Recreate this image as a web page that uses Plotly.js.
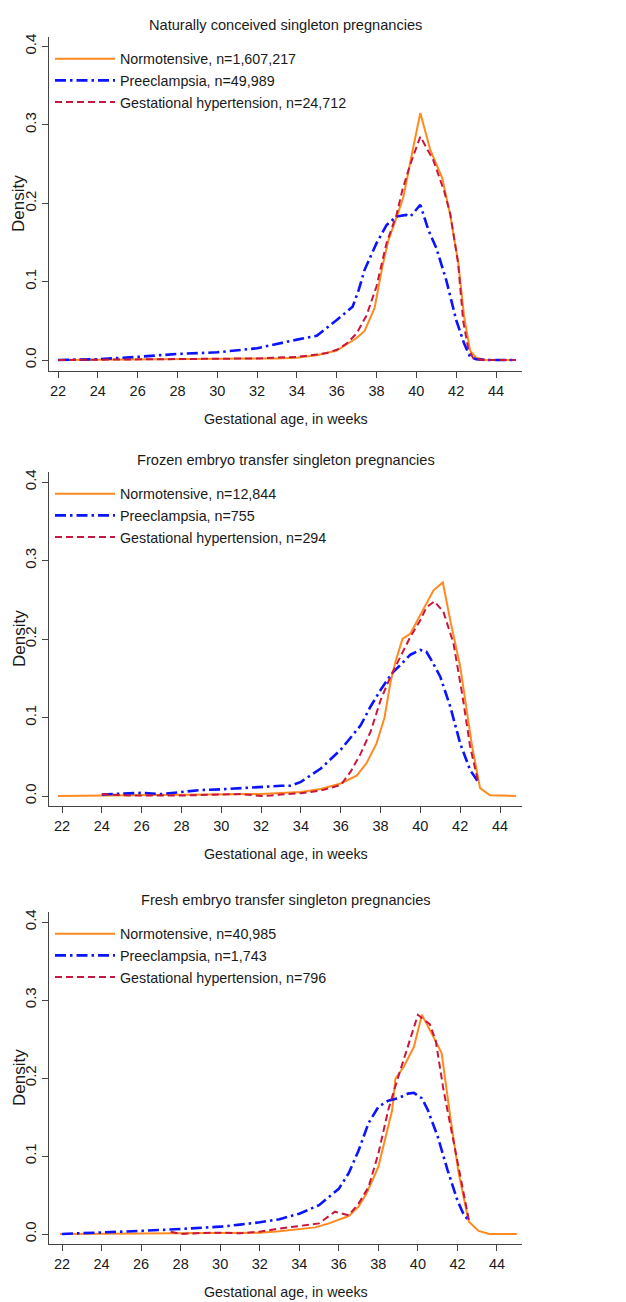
<!DOCTYPE html>
<html>
<head>
<meta charset="utf-8">
<script src="https://cdn.plot.ly/plotly-3.0.1.min.js"></script>
<style>
  html, body { margin: 0; padding: 0; background: #ffffff; }
  #chart { width: 626px; height: 1302px; }
</style>
</head>
<body>
<div id="chart"></div>
<script>
// ---------- Data ----------
const panelTitles = [
  "Naturally conceived singleton pregnancies",
  "Frozen embryo transfer singleton pregnancies",
  "Fresh embryo transfer singleton pregnancies"
];
const seriesNames1 = ["Normotensive, n=1,607,217", "Preeclampsia, n=49,989", "Gestational hypertension, n=24,712"];
const seriesNames2 = ["Normotensive, n=12,844", "Preeclampsia, n=755", "Gestational hypertension, n=294"];
const seriesNames3 = ["Normotensive, n=40,985", "Preeclampsia, n=1,743", "Gestational hypertension, n=796"];

const xTickVals = [22, 24, 26, 28, 30, 32, 34, 36, 38, 40, 42, 44];
const yTickVals = [0, 0.1, 0.2, 0.3, 0.4];
const xAxisTitle = "Gestational age, in weeks";
const yAxisTitle = "Density";

// Panel 1: naturally conceived
const p1NormX = [22, 24, 26, 28, 30, 32, 33, 34, 35, 36, 36.5, 37, 37.4, 37.9, 38.3, 38.6, 39.1, 39.35, 39.85, 40.2, 40.7, 41.3, 41.7, 42.1, 42.4, 42.7, 43.0, 43.5, 45];
const p1NormY = [0, 0.0003, 0.0005, 0.0007, 0.001, 0.0015, 0.002, 0.003, 0.006, 0.012, 0.02, 0.028, 0.037, 0.066, 0.12, 0.153, 0.189, 0.208, 0.272, 0.315, 0.268, 0.232, 0.185, 0.125, 0.055, 0.012, 0.003, 0, 0];
const p1PreX = [22, 24, 26, 28, 30, 32, 34, 35, 36, 36.8, 37.1, 37.4, 38, 38.5, 39, 39.5, 39.7, 40.2, 40.6, 41, 41.5, 42, 42.4, 42.7, 43, 43.5, 45];
const p1PreY = [0, 0.001, 0.004, 0.0077, 0.0098, 0.015, 0.026, 0.031, 0.051, 0.068, 0.089, 0.115, 0.149, 0.172, 0.183, 0.185, 0.183, 0.198, 0.166, 0.143, 0.102, 0.051, 0.021, 0.004, 0.001, 0, 0];
const p1GhX = [22, 24, 26, 28, 30, 32, 33, 34, 35, 35.5, 36, 36.5, 37, 37.5, 38, 38.5, 39, 39.3, 39.7, 40.2, 40.85, 41.4, 41.7, 42.1, 42.35, 42.6, 42.86, 43.3, 45];
const p1GhY = [0, 0.0005, 0.0008, 0.001, 0.0012, 0.002, 0.003, 0.004, 0.007, 0.009, 0.013, 0.021, 0.034, 0.057, 0.094, 0.149, 0.185, 0.217, 0.25, 0.285, 0.255, 0.215, 0.187, 0.123, 0.05, 0.015, 0.002, 0, 0];

// Panel 2: frozen embryo transfer
const p2NormX = [21.8, 24, 26, 28, 30, 32, 34, 35, 36, 36.8, 37.3, 37.8, 38.2, 38.5, 38.75, 39.1, 39.5, 40.0, 40.3, 40.66, 41.13, 41.5, 42.0, 42.6, 43.0, 43.5, 44.8];
const p2NormY = [0, 0.0005, 0.001, 0.001, 0.002, 0.0025, 0.005, 0.009, 0.016, 0.026, 0.042, 0.067, 0.10, 0.145, 0.171, 0.20, 0.207, 0.231, 0.245, 0.262, 0.272, 0.224, 0.165, 0.063, 0.01, 0.001, 0];
const p2PreX = [24, 25.4, 26, 27, 28, 29, 30, 31, 32, 33, 33.5, 34, 35, 36, 37, 37.5, 38, 38.56, 39, 39.5, 40, 40.3, 40.6, 41, 41.5, 42, 42.5, 42.9];
const p2PreY = [0.002, 0.004, 0.004, 0.0025, 0.005, 0.0076, 0.0085, 0.01, 0.012, 0.013, 0.013, 0.018, 0.035, 0.059, 0.09, 0.114, 0.135, 0.156, 0.167, 0.18, 0.186, 0.184, 0.171, 0.152, 0.114, 0.067, 0.033, 0.018];
const p2GhX = [24, 25, 26, 28, 30, 31, 32, 32.5, 33, 34, 35, 36, 36.5, 37, 37.5, 38, 38.5, 39, 39.5, 40, 40.3, 40.7, 41.15, 41.66, 42.1, 42.5, 42.9];
const p2GhY = [0.0025, 0.001, 0.0005, 0.0005, 0.002, 0.0025, 0.0, 0.0005, 0.002, 0.0035, 0.007, 0.014, 0.031, 0.054, 0.082, 0.122, 0.152, 0.177, 0.203, 0.224, 0.24, 0.248, 0.235, 0.195, 0.13, 0.063, 0.018];

// Panel 3: fresh embryo transfer
const p3NormX = [21.9, 24, 26, 28, 30, 32, 33, 34, 34.8, 35.5, 36, 36.5, 37, 37.4, 38, 38.4, 38.7, 38.86, 39.3, 39.8, 40.2, 40.78, 41.2, 41.64, 42.06, 42.57, 43.07, 43.6, 45];
const p3NormY = [0, 0.0002, 0.0003, 0.0005, 0.001, 0.0017, 0.0034, 0.006, 0.0085, 0.0136, 0.018, 0.023, 0.035, 0.052, 0.086, 0.129, 0.159, 0.199, 0.215, 0.24, 0.281, 0.253, 0.232, 0.15, 0.078, 0.016, 0.004, 0, 0];
const p3PreX = [22, 24, 26, 28, 30, 31, 32, 33, 34, 35, 36, 36.5, 37, 37.5, 38, 38.5, 39, 39.5, 39.8, 40.2, 40.5, 41, 41.5, 42, 42.3, 42.6];
const p3PreY = [0, 0.0017, 0.004, 0.0064, 0.0094, 0.012, 0.015, 0.019, 0.026, 0.037, 0.058, 0.078, 0.107, 0.142, 0.163, 0.171, 0.174, 0.18, 0.181, 0.174, 0.159, 0.125, 0.082, 0.043, 0.026, 0.016];
const p3GhX = [27.5, 28, 29, 30, 31, 32, 33, 34, 34.5, 35, 35.8, 36.5, 37, 37.5, 38, 38.5, 39, 39.6, 40.0, 40.6, 40.9, 41.3, 41.8, 42.2, 42.6];
const p3GhY = [0.003, 0.0, 0.0013, 0.0017, 0.0009, 0.003, 0.007, 0.01, 0.0115, 0.0136, 0.0286, 0.024, 0.039, 0.06, 0.103, 0.159, 0.201, 0.25, 0.281, 0.269, 0.248, 0.184, 0.12, 0.065, 0.015];

// ---------- Styling ----------
const W = 626, H = 1302;
const SANS = "Liberation Sans, Arial, Helvetica, sans-serif";
const COL_NORM = "#ff8a1f";
const COL_PRE = "#0a14ff";
const COL_GH = "#c8173f";
const AXIS_COL = "#444444";
const TEXT_COL = "#1a1a1a";

// pixel geometry of the three panels (top of plot, bottom axis line, x range, y range)
const panels = [
  { top: 37,  bottom: 371,  xr: [21.548, 45.306], yr: [-0.01403, 0.41199], tick04: 47 },
  { top: 472, bottom: 806,  xr: [21.347, 45.105], yr: [-0.01274, 0.41274], tick04: 482 },
  { top: 912, bottom: 1244, xr: [21.342, 45.265], yr: [-0.01282, 0.41282], tick04: 922 }
];
const xDom = [49 / W, 522 / W];

const seriesData = [
  [[p1NormX, p1NormY], [p1PreX, p1PreY], [p1GhX, p1GhY]],
  [[p2NormX, p2NormY], [p2PreX, p2PreY], [p2GhX, p2GhY]],
  [[p3NormX, p3NormY], [p3PreX, p3PreY], [p3GhX, p3GhY]]
];
const names = [seriesNames1, seriesNames2, seriesNames3];
const lineStyles = [
  { color: COL_NORM, width: 2, dash: "solid" },
  { color: COL_PRE, width: 2.6, dash: "11px,4px,2.5px,4px" },
  { color: COL_GH, width: 2, dash: "7px,4px" }
];

const traces = [];
const layout = {
  width: W, height: H,
  margin: { l: 0, r: 0, t: 0, b: 0 },
  paper_bgcolor: "#ffffff",
  plot_bgcolor: "#ffffff",
  showlegend: true,
  annotations: []
};

const legendKeys = ["legend", "legend2", "legend3"];

panels.forEach((p, i) => {
  const xa = i === 0 ? "xaxis" : "xaxis" + (i + 1);
  const ya = i === 0 ? "yaxis" : "yaxis" + (i + 1);
  const xref = i === 0 ? "x" : "x" + (i + 1);
  const yref = i === 0 ? "y" : "y" + (i + 1);
  const dom = [1 - p.bottom / H, 1 - p.top / H];

  layout[xa] = {
    domain: xDom, range: p.xr, anchor: yref,
    tickvals: xTickVals, ticks: "outside", ticklen: 6, tickwidth: 1, tickcolor: AXIS_COL,
    showline: true, linecolor: AXIS_COL, linewidth: 1.2, mirror: false,
    showgrid: false, zeroline: false,
    tickfont: { family: SANS, size: 14.5, color: TEXT_COL },
    fixedrange: true
  };
  layout[ya] = {
    domain: dom, range: p.yr, anchor: xref,
    tickvals: yTickVals, tickformat: ".1f", ticks: "outside", ticklen: 6, tickwidth: 1, tickcolor: AXIS_COL,
    tickangle: -90,
    showline: true, linecolor: AXIS_COL, linewidth: 1.2, mirror: false,
    showgrid: false, zeroline: false,
    tickfont: { family: SANS, size: 15, color: TEXT_COL },
    fixedrange: true
  };

  seriesData[i].forEach((s, k) => {
    traces.push({
      type: "scatter", mode: "lines",
      x: s[0], y: s[1],
      xaxis: xref, yaxis: yref,
      name: names[i][k],
      legend: legendKeys[i],
      legendgroup: "g" + i + k,
      line: Object.assign({ shape: "linear" }, lineStyles[k]),
      hoverinfo: "x+y+name"
    });
  });

  layout[legendKeys[i]] = {
    x: 50 / W, xanchor: "left",
    y: 1 - (p.tick04 - 4) / H, yanchor: "top",
    bgcolor: "rgba(0,0,0,0)", borderwidth: 0,
    font: { family: SANS, size: 14.3, color: TEXT_COL },
    itemwidth: 60, tracegroupgap: 7, traceorder: "normal"
  };

  // panel title
  layout.annotations.push({
    xref: "paper", yref: "paper", x: (49 + 522) / 2 / W, y: 1 - (p.tick04 - 22) / H,
    xanchor: "center", yanchor: "middle", showarrow: false,
    text: panelTitles[i], font: { family: SANS, size: 14.6, color: TEXT_COL }
  });
  // x axis title
  layout.annotations.push({
    xref: "paper", yref: "paper", x: (49 + 522) / 2 / W, y: 1 - (p.bottom + 48) / H,
    xanchor: "center", yanchor: "middle", showarrow: false,
    text: xAxisTitle, font: { family: SANS, size: 14.3, color: TEXT_COL }
  });
  // y axis title
  layout.annotations.push({
    xref: "paper", yref: "paper", x: 19 / W, y: 1 - ((p.tick04 + p.bottom - 10) / 2) / H,
    xanchor: "center", yanchor: "middle", showarrow: false, textangle: -90,
    text: yAxisTitle, font: { family: SANS, size: 17, color: TEXT_COL }
  });
});

Plotly.newPlot("chart", traces, layout, { displayModeBar: false, staticPlot: true });
</script>
</body>
</html>
